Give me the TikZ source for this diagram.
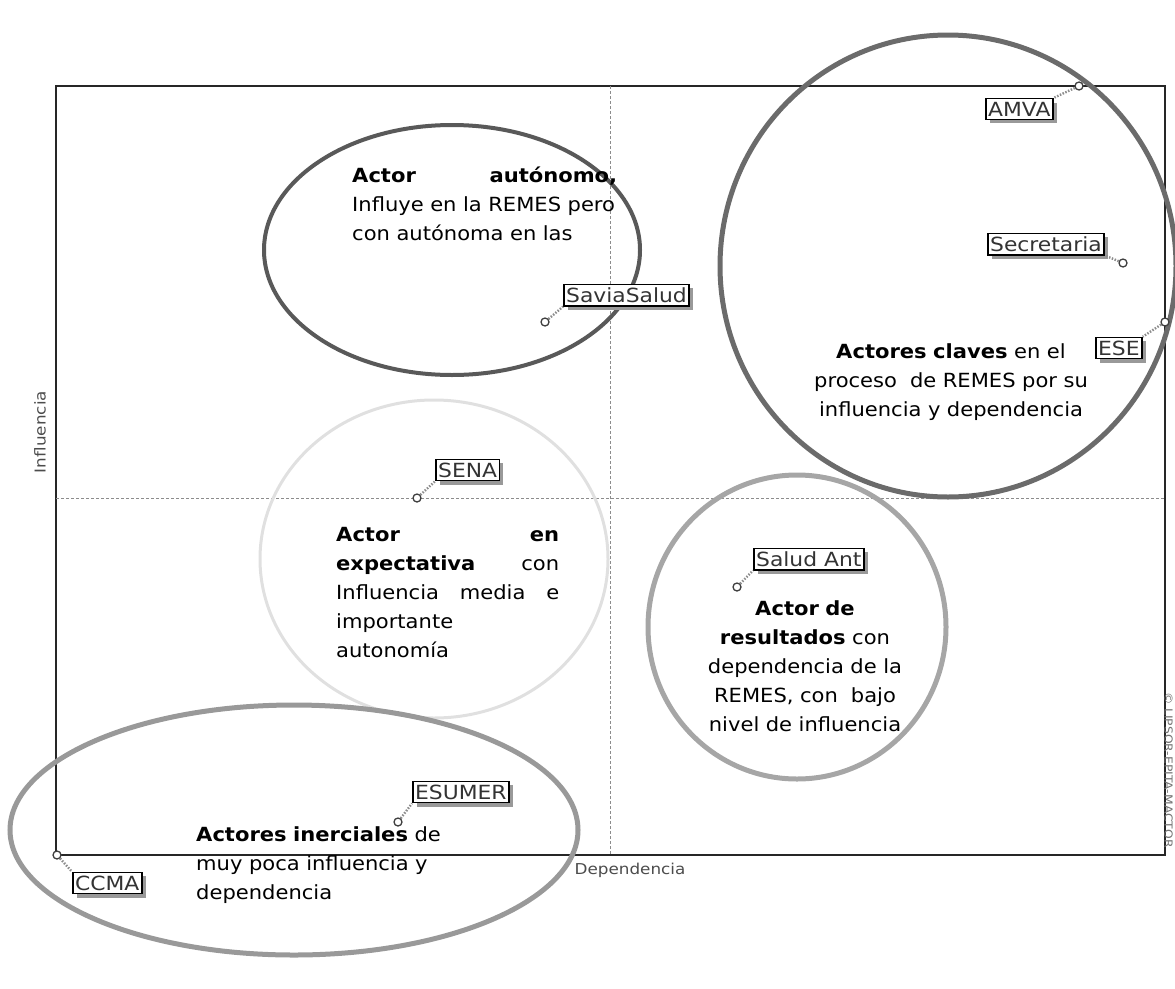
\documentclass[tikz,border=0pt]{standalone}
\usepackage{fontspec}
\setmainfont{DejaVu Sans}[FakeStretch=1.08]
\newfontfamily\lblfont{DejaVu Sans}[FakeStretch=1.12]
\usetikzlibrary{shadows}

\tikzset{
  frame/.style={draw=black!85, line width=1.4pt},
  axis/.style={draw=black!45, line width=0.8pt, dash pattern=on 3pt off 2pt},
  axislbl/.style={font=\lblfont\fontsize{15}{15}\selectfont, text=black!70},
  zone/.style={line width=#1},
  note/.style={font=\fontsize{19.5}{29}\selectfont, inner sep=0pt},
  actor/.style={draw=black, line width=1.5pt, fill=white, inner xsep=2.4pt, inner ysep=3.2pt,
    font=\lblfont\fontsize{19.5}{19.5}\selectfont, text=black!80,
    drop shadow={shadow xshift=4pt, shadow yshift=-4pt, fill=black!40, opacity=1}},
  actorpt/.style={circle, draw=black!75, fill=white, line width=1.3pt, inner sep=0pt, minimum size=8pt},
  leader/.style={draw=black!45, line width=2.4pt, dash pattern=on 1.5pt off 1.5pt}
}

\begin{document}
\begin{tikzpicture}[x=1pt,y=-1pt]
\useasboundingbox (0,0) rectangle (1175,988);
\clip (0,0) rectangle (1175,988);

% plan
\draw[frame] (56,86) rectangle (1165,855);
\draw[axis] (610,86) -- (610,855);
\draw[axis] (56,498) -- (1165,498);
\node[axislbl, rotate=90] (infl) at (40,432) {Influencia};
\node[axislbl] (dep) at (630,870) {Dependencia};
\node[axislbl, font=\lblfont\fontsize{11}{11}\selectfont, text=black!55, rotate=-90, anchor=north west, inner sep=0pt] (copy) at (1173,692) {© LIPSOR-EPITA-MACTOR};

% zonas
\draw[zone=4pt, draw=black!65] (452,250) ellipse [x radius=188, y radius=125];
\draw[zone=5pt, draw=black!58] (948,266) ellipse [x radius=228, y radius=231];
\draw[zone=3pt, draw=black!12] (434,559) ellipse [x radius=174, y radius=159];
\draw[zone=5pt, draw=black!35] (797,627) ellipse [x radius=149, y radius=152];
\draw[zone=5pt, draw=black!40] (294,830) ellipse [x radius=284, y radius=125];

% textos
\node[note, anchor=north west, text width=265pt, align=left] (auton) at (352,167)
  {\textbf{Actor}\hfill\textbf{autónomo,}\\ Influye en la REMES pero\\ con autónoma en las};
\node[note, anchor=north, text width=290pt, align=center] (claves) at (951,343)
  {\textbf{Actores claves} en el\\ proceso\ \ de REMES por su\\ influencia y dependencia};
\node[note, anchor=north west, text width=223pt, align=left] (expec) at (336,527)
  {\textbf{Actor}\hfill\textbf{en}\\ \textbf{expectativa}\hfill con\\ Influencia\hfill media\hfill e\\ importante\\ autonomía};
\node[note, anchor=north, text width=260pt, align=center] (result) at (805,600)
  {\textbf{Actor de}\\ \textbf{resultados} con\\ dependencia de la\\ REMES, con\ \ bajo\\ nivel de influencia};
\node[note, anchor=north west, text width=280pt, align=left] (inerc) at (196,826)
  {\textbf{Actores inerciales} de\\ muy poca influencia y\\ dependencia};

% actores
\node[actorpt] (amvapt) at (1079,86) {};
\node[actor, anchor=west] (amva) at (985,109) {AMVA};
\draw[leader] (amvapt) -- (amva.north east);

\node[actorpt] (secrpt) at (1123,263) {};
\node[actor, anchor=west] (secr) at (987,244) {Secretaria};
\draw[leader] (secrpt) -- (secr.south east);

\node[actorpt] (esept) at (1165,322) {};
\node[actor, anchor=west] (ese) at (1095,348) {ESE};
\draw[leader] (esept) -- (ese.north east);

\node[actorpt] (saviapt) at (545,322) {};
\node[actor, anchor=west] (savia) at (563,295) {SaviaSalud};
\draw[leader] (saviapt) -- (savia.south west);

\node[actorpt] (senapt) at (417,498) {};
\node[actor, anchor=west] (sena) at (435,470) {SENA};
\draw[leader] (senapt) -- (sena.south west);

\node[actorpt] (saludpt) at (737,587) {};
\node[actor, anchor=west] (salud) at (753,559) {Salud Ant};
\draw[leader] (saludpt) -- (salud.south west);

\node[actorpt] (esumerpt) at (398,822) {};
\node[actor, anchor=west] (esumer) at (412,792) {ESUMER};
\draw[leader] (esumerpt) -- (esumer.south west);

\node[actorpt] (ccmapt) at (57,855) {};
\node[actor, anchor=west] (ccma) at (72,883) {CCMA};
\draw[leader] (ccmapt) -- (ccma.north west);
\end{tikzpicture}
\end{document}
